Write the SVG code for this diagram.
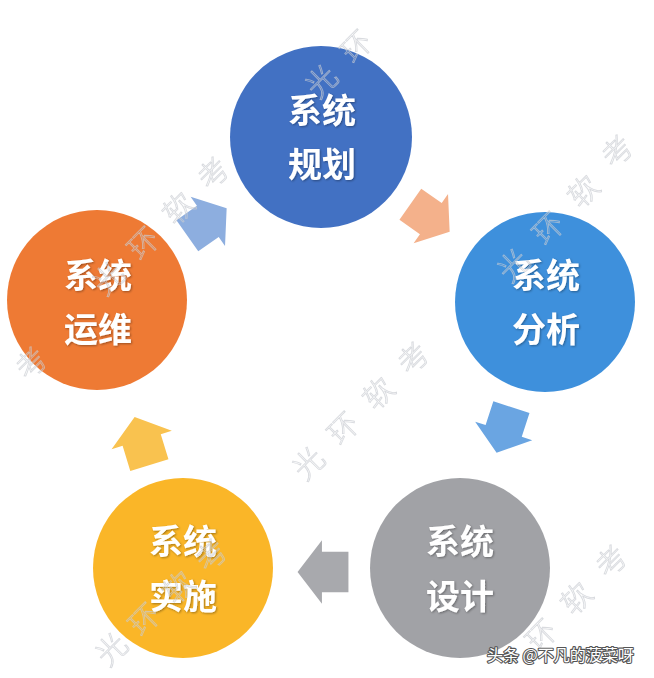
<svg xmlns="http://www.w3.org/2000/svg" width="654" height="678" viewBox="0 0 654 678">
<defs>
<style>
.lbl{font-family:"Noto Sans CJK SC","Noto Sans",sans-serif;font-size:34px;font-weight:bold;fill:#ffffff;text-anchor:middle;dominant-baseline:central;filter:url(#sh)}
.wm{font-family:"Noto Sans CJK SC",sans-serif;font-size:30px;font-weight:300;fill:none;stroke:#c9ccd2;stroke-width:0.9;text-anchor:middle;dominant-baseline:central;opacity:0.7}
.credit{font-family:"Noto Sans CJK SC","Noto Sans",sans-serif;font-size:16px;fill:#ffffff;stroke:#555;stroke-width:2.2;paint-order:stroke;stroke-linejoin:round}
</style>
<filter id="sh" x="-20%" y="-20%" width="140%" height="140%">
<feDropShadow dx="1" dy="1" stdDeviation="0.8" flood-color="#000" flood-opacity="0.35"/>
</filter>
<path id="arr" d="M-24,-19 H1 V-30 L24,0 L1,30 V19 H-24 Z"/>
</defs>
<rect width="654" height="678" fill="#ffffff"/>

<g id="connectors">
<use href="#arr" fill="#8DAEDF" transform="translate(207,222) rotate(-35)"/>
<use href="#arr" fill="#F4B18B" transform="translate(430,218) rotate(35)"/>
<use href="#arr" fill="#6AA5E2" transform="translate(504,430) rotate(108)"/>
<use href="#arr" fill="#A8A9AD" transform="translate(323,572) rotate(180) scale(1.06)"/>
<use href="#arr" fill="#F9C24F" transform="translate(142,441) rotate(-107) scale(1.05)"/>
</g>

<g id="node-plan">
<circle cx="321" cy="137" r="91" fill="#4271C3"/>
<text class="lbl" x="322" y="108">系统</text>
<text class="lbl" x="322" y="162">规划</text>
</g>
<g id="node-analysis">
<circle cx="545" cy="302" r="90" fill="#3E90DC"/>
<text class="lbl" x="546" y="273">系统</text>
<text class="lbl" x="546" y="327">分析</text>
</g>
<g id="node-design">
<circle cx="460" cy="568" r="90" fill="#A1A2A6"/>
<text class="lbl" x="460" y="539">系统</text>
<text class="lbl" x="460" y="594">设计</text>
</g>
<g id="node-implement">
<circle cx="183" cy="568" r="90" fill="#FAB628"/>
<text class="lbl" x="183" y="539">系统</text>
<text class="lbl" x="183" y="594">实施</text>
</g>
<g id="node-ops">
<circle cx="97" cy="300" r="90" fill="#EE7A34"/>
<text class="lbl" x="98" y="273">系统</text>
<text class="lbl" x="98" y="327">运维</text>
</g>

<g id="watermark">
<text class="wm" transform="translate(307,462) rotate(-45)">光</text>
<text class="wm" transform="translate(342,427) rotate(-45)">环</text>
<text class="wm" transform="translate(377,392) rotate(-45)">软</text>
<text class="wm" transform="translate(412,357) rotate(-45)">考</text>
<text class="wm" transform="translate(320,80) rotate(-45)">光</text>
<text class="wm" transform="translate(355,45) rotate(-45)">环</text>
<text class="wm" transform="translate(107,277) rotate(-45)">光</text>
<text class="wm" transform="translate(142,242) rotate(-45)">环</text>
<text class="wm" transform="translate(177,207) rotate(-45)">软</text>
<text class="wm" transform="translate(212,172) rotate(-45)">考</text>
<text class="wm" transform="translate(30,362) rotate(-45)">考</text>
<text class="wm" transform="translate(512,264) rotate(-45)">光</text>
<text class="wm" transform="translate(547,227) rotate(-45)">环</text>
<text class="wm" transform="translate(582,190) rotate(-45)">软</text>
<text class="wm" transform="translate(616,150) rotate(-45)">考</text>
<text class="wm" transform="translate(540,634) rotate(-45)">环</text>
<text class="wm" transform="translate(575,597) rotate(-45)">软</text>
<text class="wm" transform="translate(610,560) rotate(-45)">考</text>
<text class="wm" transform="translate(110,648) rotate(-45)">光</text>
<text class="wm" transform="translate(143,618) rotate(-45)">环</text>
<text class="wm" transform="translate(177,586) rotate(-45)">软</text>
<text class="wm" transform="translate(210,554) rotate(-45)">考</text>
</g>
<text class="credit" x="487" y="661">头条 @不凡的菠菜呀</text>
</svg>
